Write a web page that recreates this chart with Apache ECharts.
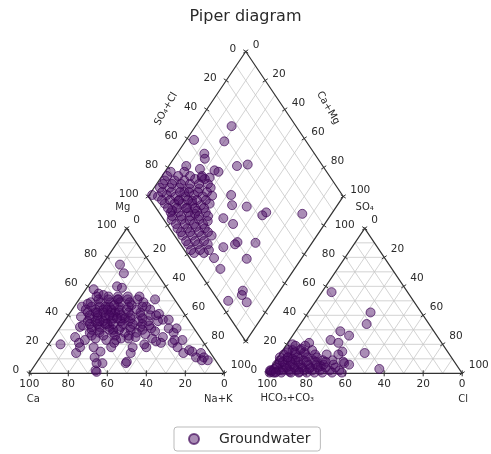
<!DOCTYPE html>
<html><head><meta charset="utf-8">
<script src="https://cdn.jsdelivr.net/npm/echarts@6/dist/echarts.min.js"></script>
<style>html,body{margin:0;padding:0;background:#fff}#c{width:491px;height:454px}</style>
</head><body><div id="c"></div>
<script>
// ---- tick labels (percent) ----
const tickValues = [0, 20, 40, 60, 80, 100];
const gridSteps = [10, 20, 30, 40, 50, 60, 70, 80, 90];

// ---- cation triangle readings (meq %) ----
const cationMg = [75,69,60,59,58,55,54,51,46,40,37,31,28,23,18,14,15,14,11,9,11,21,25,21,24,18,18,7,20,20,25,14,18,23,18,11,7,1,15,18,23,23,32,46,48,47,53,41,37,31,36,31,
  22,23,16,9,8,39,33,21,7,2,14,21,
  53,53,53,53, 49,49,49,49,49,49, 44,44,44,44,44,44,44,44, 40,40,40,40,40,40,40,40, 36,36,36,36,36,36,36,36, 32,32,32,32,32,32, 28,28,28,28,28, 24,24,24,
  46,42,38,34,51,30,
  51,51,51,51,51, 46,46,46,46,46,46, 42,42,42,42,42,42,42, 38,38,38,38,38,38,38, 34,34,34,34,34,34,34, 30,30,30,30,30, 26,26,26,26,
  44,40,38,42,36,47,
  30,27,33,25,29];
const cationNaK = [9,14,15,18,4,8,11,39,37,45,50,56,60,67,67,72,76,81,84,87,80,63,56,57,51,51,44,46,49,6,11,17,17,17,24,28,31,34,29,33,33,28,10,4,6,29,30,46,53,60,48,47,
  54,63,74,84,46,7,11,15,34,33,45,33,
  8,14,19,24, 7,12,17,22,27,34, 7,12,16,20,24,28,33,40, 11,15,19,23,27,32,37,42, 12,16,20,24,29,33,38,43, 16,20,25,31,36,41, 17,22,29,35,41, 22,35,39,
  16,23,30,23,20,28,
  10,15,20,25,30, 9,13,18,23,28,35, 9,13,17,21,25,30,36, 12,16,20,24,28,33,39, 14,18,22,26,31,36,41, 17,21,26,31,37, 19,25,31,38,
  18,21,26,14,18,20,
  43,46,45,42,50];

// ---- anion triangle readings (meq %) ----
const anionSO4 = [56,42,34,29,26,23,21,14,3,21,17,15,8,13,16,7,20,
  2,2,2,2,2,2,2,2,2, 6,6,6,6,6,6,6,6,6, 9,9,9,9,9,9,9, 13,13,13,13,13, 16,16,16,
  1,4,1,4,7,11,0.5,3,2,5,1,10,3,5,
  4,4,4,4,4,4,4,4, 0.5,0.5,0.5,0.5,0.5,0.5,0.5,0.5,0.5, 8,8,8,8,8,8, 11,11,11,11,11, 14.5,14.5,14.5, 19,19,
  1,2,0.5];
const anionCl = [5,32,34,23,29,21,26,43,56,11,9,31,35,30,3,36,3,
  1,5,10,14,18,22,26,31,36, 2,6,10,14,18,22,26,31,39, 2,6,10,14,19,24,29, 2,8,13,18,24, 5,9,15,
  4,6,11,14,3,5,1,2,7,9,16,8,20,25,
  3,8,12,16,20,24,28,33, 3,7,12,16,20,24,28,33,38, 4,8,12,16,21,26, 1,5,10,15,20, 3,7,12, 5,10,
  1.5,0.5,4];

// ---- diamond readings: Na+K % and SO4+Cl % ----
const diamondNaK = [18.5,4,20,14,16,35,40,9,17,25,25,42,46,54,65,66,85,53,46,61.5,61,71,56,72,62,81,82,87,77,55,27.5,21,
  3,8,13,18,23, 3,8,13,18.5,23.5,29, 5,9,14,19,23,28,32.5, 11,16,20,25,30,34, 17,21,26,30,35, 20,25,29.5,34,39,
  26,31,35,40, 31,36,41,46, 37,42,47, 43,48, 3,10, 17,24,17,30,17,24,1.5,
  3.3,7.9,12.5,17.1,21.7,26.3, 5.6,10.2,14.8,19.4,24,28.6, 8.3,12.4,17,21.6,26.2,30.8, 14.1,18.7,23.4,28,32.6,
  19,23.6,28.2,32.8,37.4, 23.7,28.3,33,37.6, 29.1,33.7,38.3,42.9, 34.8,39.4,44, 40.4,45,49.6, 2.6,8.3,14.4,20.5];
const diamondSO4Cl = [67,43,58,43.5,42,56,62,30,36,43,38,43,40,47,52,55,73,34,31,30,28,39,21,29,12,16,14,14,5,12.5,44.5,34,
  14,19,24,30,35, 9,14,19,24,29,35, 5,10,14,19,24,28,33, 6,11,15,20,24,29, 6,10,15,20,24, 4,9,13,18,22,
  4,9,14,18, 4,9,14,19, 4,9,14, 4,9, 20,27, 14,16,20,18,7.5,21,2.5,
  11.9,16.5,21.1,25.7,30.3,34.9, 8.6,13.2,17.8,22.4,27,31.6, 5.8,9.9,14.5,19.1,23.7,28.3, 6.1,10.7,15.4,20,24.6,
  5.5,10.1,14.7,19.3,23.9, 4.7,9.3,14,18.6, 4.5,9.1,13.7,18.3, 4,8.6,13.2, 3.4,8,12.6, 16.7,22.4,28.5,34.6];

// ---- Piper geometry ----
const OFF = 0.22, H = Math.sqrt(3) / 2;
const cat = (mg, nak) => [nak / 100 + mg / 200, mg / 100 * H];
const an = (so4, cl) => [1 + OFF + cl / 100 + so4 / 200, so4 / 100 * H];
const dia = (nak, sc) => { const c = nak / 100, a = sc / 100, t = 1 + OFF + a - c; return [c + t / 2, H * t]; };

const points = [];
cationMg.forEach((m, i) => points.push(cat(m, cationNaK[i])));
anionSO4.forEach((s, i) => points.push(an(s, anionCl[i])));
diamondNaK.forEach((c, i) => points.push(dia(c, diamondSO4Cl[i])));

const FONT = 'DejaVu Sans';
const TXT = '#2a2a2a';

function renderFrame(params, api) {
  const ch = [];
  const seg = (a, b, stroke, w) => {
    const p = api.coord(a), q = api.coord(b);
    ch.push({ type: 'line', silent: true, shape: { x1: p[0], y1: p[1], x2: q[0], y2: q[1] }, style: { stroke: stroke, lineWidth: w } });
  };
  const GRID = '#c8c8c8';
  gridSteps.forEach(v => {
    seg(cat(v, 0), cat(v, 100 - v), GRID, 0.8);
    seg(cat(0, v), cat(100 - v, v), GRID, 0.8);
    seg(cat(0, 100 - v), cat(100 - v, 0), GRID, 0.8);
    seg(an(v, 0), an(v, 100 - v), GRID, 0.8);
    seg(an(0, v), an(100 - v, v), GRID, 0.8);
    seg(an(0, 100 - v), an(100 - v, 0), GRID, 0.8);
    seg(dia(v, 0), dia(v, 100), GRID, 0.8);
    seg(dia(0, v), dia(100, v), GRID, 0.8);
  });
  const poly = pts => ch.push({ type: 'polygon', silent: true, shape: { points: pts.map(p => api.coord(p)) }, style: { fill: 'none', stroke: '#333', lineWidth: 1.2 } });
  poly([cat(0, 0), cat(0, 100), cat(100, 0)]);
  poly([an(0, 0), an(0, 100), an(100, 0)]);
  poly([dia(0, 0), dia(100, 0), dia(100, 100), dia(0, 100)]);

  const tick = (a, b, pt) => {
    const pa = api.coord(a), pb = api.coord(b), p = api.coord(pt);
    let dx = pb[0] - pa[0], dy = pb[1] - pa[1];
    const L = Math.hypot(dx, dy); dx /= L; dy /= L;
    const nx = -dy * 3, ny = dx * 3;
    ch.push({ type: 'line', silent: true, shape: { x1: p[0] - nx, y1: p[1] - ny, x2: p[0] + nx, y2: p[1] + ny }, style: { stroke: '#333', lineWidth: 1 } });
  };
  const label = (pt, text, align, dx, dy, size, rot) => {
    const p = api.coord(pt);
    ch.push({ type: 'text', silent: true, x: p[0] + dx, y: p[1] + dy, rotation: rot || 0,
      style: { text: String(text), fill: TXT, fontSize: size || 10.5, fontFamily: FONT, align: align, verticalAlign: 'middle' } });
  };
  tickValues.forEach(v => {
    tick(cat(0, 0), cat(0, 100), cat(0, v));
    tick(cat(0, 0), cat(100, 0), cat(v, 0));
    tick(cat(100, 0), cat(0, 100), cat(100 - v, v));
    tick(an(0, 0), an(0, 100), an(0, v));
    tick(an(0, 0), an(100, 0), an(v, 0));
    tick(an(100, 0), an(0, 100), an(100 - v, v));
    tick(dia(0, 0), dia(0, 100), dia(0, v));
    tick(dia(0, 100), dia(100, 100), dia(v, 100));
    tick(dia(0, 0), dia(100, 0), dia(v, 0));
    tick(dia(100, 0), dia(100, 100), dia(100, v));

    label(cat(0, v), 100 - v, 'center', 0, 11);
    label(cat(v, 0), v, 'right', -10, -3);
    label(cat(100 - v, v), v, 'left', 6.5, -8);
    label(an(0, v), 100 - v, 'center', 0, 11);
    label(an(v, 0), v, 'right', -10, -3);
    label(an(100 - v, v), v, 'left', 6.5, -8);
    label(dia(0, v), 100 - v, 'right', -9.5, -2);
    label(dia(v, 100), v, 'left', 7, -6.5);
  });
  // axis titles
  label(cat(0, 0), 'Ca', 'center', 4, 26, 10);
  label(cat(0, 100), 'Na+K', 'center', -6, 26, 10);
  label(cat(100, 0), 'Mg', 'center', -4, -21, 10);
  label(an(0, 0), 'HCO\u2083+CO\u2083', 'center', 20, 25, 10);
  label(an(0, 100), 'Cl', 'center', 1, 26, 10);
  label(an(100, 0), 'SO\u2084', 'center', 0, -21, 10);
  label(dia(0, 50), 'SO\u2084+Cl', 'center', -31, -15, 10, Math.PI / 3);
  label(dia(50, 100), 'Ca+Mg', 'center', 33.5, -16, 10, -Math.PI / 3);
  return { type: 'group', children: ch };
}

const chart = echarts.init(document.getElementById('c'), null, { renderer: 'canvas' });
chart.setOption({
  animation: false,
  backgroundColor: '#fff',
  title: { text: 'Piper diagram', left: 'center', top: 4, textStyle: { fontSize: 16, fontWeight: 'normal', fontFamily: FONT, color: TXT } },
  legend: {
    data: ['Groundwater'], left: 174, top: 427, icon: 'circle', itemWidth: 10, itemHeight: 10,
    padding: [5, 10, 5, 14], borderColor: '#bbb', borderWidth: 1, borderRadius: 3,
    textStyle: { fontSize: 14, fontFamily: FONT, color: TXT, padding: [0, 0, 0, 15] }
  },
  grid: { left: 9.8, right: 13.2, top: 38.5, bottom: 47.2 },
  xAxis: { type: 'value', min: -0.1, max: 2.3, show: false },
  yAxis: { type: 'value', min: -0.2, max: 2.0, show: false },
  series: [
    { type: 'custom', name: 'frame', renderItem: renderFrame, data: [[0, 0]], clip: false, silent: true, z: 1 },
    { type: 'scatter', name: 'Groundwater', data: points, symbolSize: 9, z: 3,
      itemStyle: { color: 'rgba(72,8,98,0.58)', borderColor: 'rgba(62,4,86,0.85)', borderWidth: 1 },
      emphasis: { disabled: true } }
  ]
});
</script>
</body></html>
